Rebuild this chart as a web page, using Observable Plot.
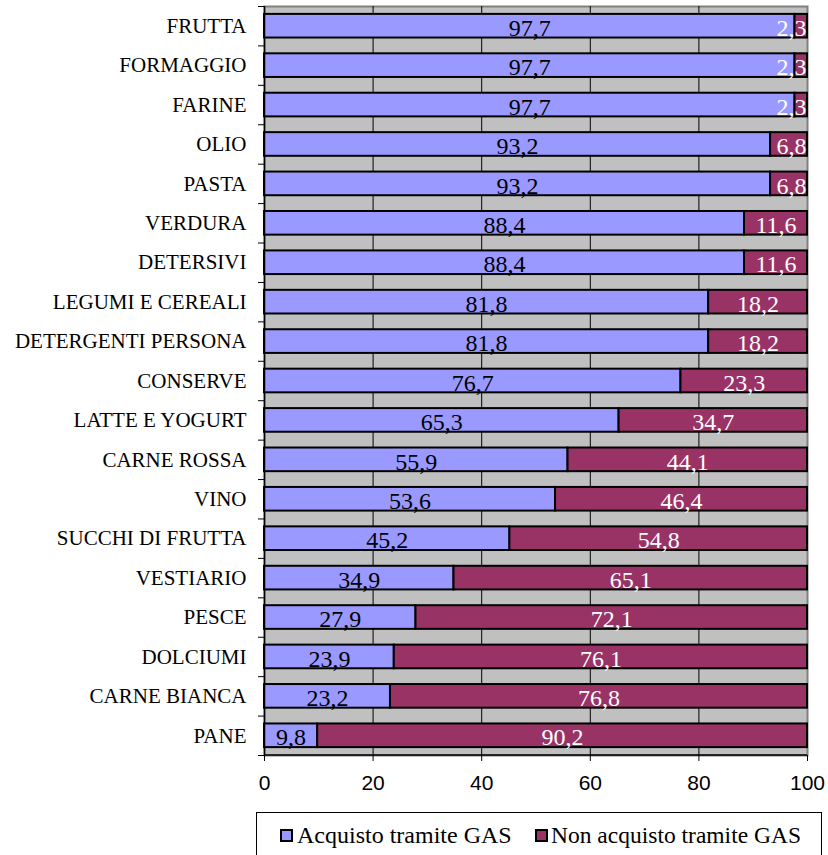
<!DOCTYPE html>
<html>
<head>
<meta charset="utf-8">
<script src="https://cdn.jsdelivr.net/npm/d3@7"></script>
<script src="https://cdn.jsdelivr.net/npm/@observablehq/plot@0.6"></script>
<style>
  body { margin: 0; background: #fff; }
  #chart { width: 828px; }
  #chart svg { display: block; }
</style>
</head>
<body>
<div id="chart"></div>
<script>
const categories = ["FRUTTA","FORMAGGIO","FARINE","OLIO","PASTA","VERDURA","DETERSIVI","LEGUMI E CEREALI","DETERGENTI PERSONA","CONSERVE","LATTE E YOGURT","CARNE ROSSA","VINO","SUCCHI DI FRUTTA","VESTIARIO","PESCE","DOLCIUMI","CARNE BIANCA","PANE"];
const acquisto = [97.7,97.7,97.7,93.2,93.2,88.4,88.4,81.8,81.8,76.7,65.3,55.9,53.6,45.2,34.9,27.9,23.9,23.2,9.8];
const nonAcquisto = [2.3,2.3,2.3,6.8,6.8,11.6,11.6,18.2,18.2,23.3,34.7,44.1,46.4,54.8,65.1,72.1,76.1,76.8,90.2];
const seriesNames = ["Acquisto tramite GAS","Non acquisto tramite GAS"];
const colors = ["#9999FF","#993366"];
const xTicks = [0,20,40,60,80,100];
const gridTicks = [20,40,60,80];

const data = [];
categories.forEach((c,i) => {
  const a = acquisto[i], n = nonAcquisto[i];
  data.push({cat: c, series: seriesNames[0], value: a, mid: a / 2, total: a + n, edge: false});
  data.push({cat: c, series: seriesNames[1], value: n, mid: a + n / 2, total: a + n, edge: n < 8});
});
const fmt = v => v.toFixed(1).replace(".", ",");

const W = 828, H = 800, mt = 6, mb = 45, ml = 264, mr = 21;
const step = (H - mt - mb) / categories.length;

const labelStyle = {fontFamily: "Liberation Serif", fontSize: 24, dy: 2};

const plot = Plot.plot({
  width: W, height: H,
  marginTop: mt, marginBottom: mb, marginLeft: ml, marginRight: mr,
  style: {background: "#fff"},
  x: {domain: [0,100], ticks: xTicks, label: null},
  y: {domain: categories, paddingInner: 0.4, paddingOuter: 0.2, round: false, label: null},
  color: {domain: seriesNames, range: colors},
  marks: [
    Plot.frame({fill: "#C0C0C0", stroke: "#808080", strokeWidth: 2}),
    Plot.ruleX(gridTicks, {stroke: "#000", strokeWidth: 1}),
    Plot.barX(data, Plot.stackX({y: "cat", x: "value", fill: "series", stroke: "#000", strokeWidth: 2, order: seriesNames})),
    Plot.text(data.filter(d => !d.edge), {y: "cat", x: "mid", text: d => fmt(d.value),
      fill: d => d.series === seriesNames[0] ? "#000" : "#fff", ...labelStyle}),
    Plot.text(data.filter(d => d.edge), {y: "cat", x: "total", text: d => fmt(d.value),
      textAnchor: "end", dx: -1, fill: "#fff", ...labelStyle}),
    Plot.ruleX([0], {stroke: "#000", strokeWidth: 1.5}),
    Plot.axisX({ticks: xTicks, label: null, tickSize: 6, tickPadding: 14, fontSize: 21, fontFamily: "Liberation Sans", stroke: "#000", color: "#000"}),
    Plot.axisY({label: null, tickSize: 0, tickPadding: 18, fontSize: 21, fontFamily: "Liberation Serif", color: "#000"}),
    Plot.axisY({label: null, tickSize: 6, text: null, dy: -step/2, stroke: "#000"}),
    Plot.axisY({label: null, ticks: [categories[categories.length-1]], tickSize: 6, text: null, dy: step/2, stroke: "#000"})
  ]
});

const chart = document.getElementById("chart");
chart.appendChild(plot);
d3.select(plot).append("line")
  .attr("x1", ml).attr("x2", W - mr).attr("y1", H - mb).attr("y2", H - mb)
  .attr("stroke", "#000").attr("stroke-width", 1.5);

// legend below the chart
const lg = d3.create("svg").attr("width", W).attr("height", 55).style("display", "block");
lg.append("rect").attr("x", 256.5).attr("y", 12.5).attr("width", 565).attr("height", 60)
  .attr("fill", "#fff").attr("stroke", "#000").attr("stroke-width", 1);
const items = [{x: 280, tx: 297, fs: 24}, {x: 535, tx: 551, fs: 23.5}];
seriesNames.forEach((s, i) => {
  lg.append("rect").attr("x", items[i].x + 1).attr("y", 30).attr("width", 11).attr("height", 11)
    .attr("fill", colors[i]).attr("stroke", "#000").attr("stroke-width", 2);
  lg.append("text").attr("x", items[i].tx).attr("y", 43)
    .attr("font-family", "Liberation Serif").attr("font-size", items[i].fs).attr("fill", "#000")
    .text(s);
});
chart.appendChild(lg.node());
</script>
</body>
</html>
